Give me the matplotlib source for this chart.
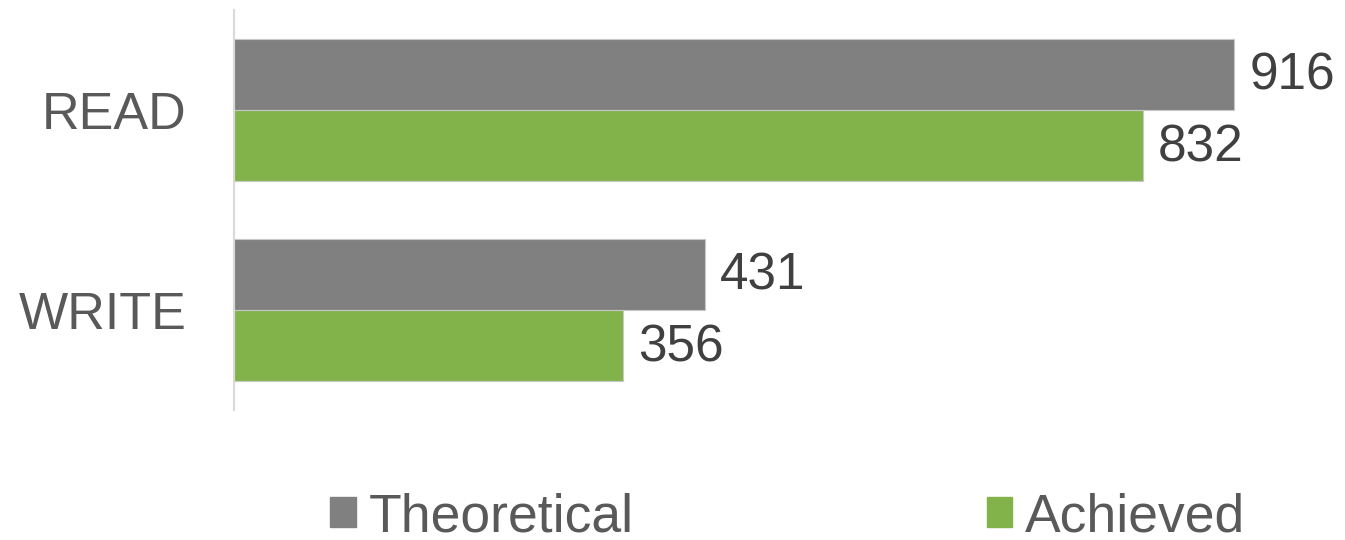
import numpy as np
import matplotlib.pyplot as plt
from matplotlib.patches import Patch

plt.rcParams['font.family'] = ['Liberation Sans', 'DejaVu Sans']

categories = ["READ", "WRITE"]
theoretical = [916, 431]
achieved = [832, 356]
series_names = ["Theoretical", "Achieved"]

gray = "#808080"
green = "#82B34A"
txt = "#595959"
val_txt = "#404040"

fig = plt.figure(figsize=(13.45, 5.40), dpi=100)
ax = fig.add_axes([234 / 1345, 1 - 410 / 540, 1092 / 1345, 400 / 540])

y = np.arange(len(categories))
h = 0.355
ax.barh(y - h / 2, theoretical, height=h, color=gray, edgecolor="#c8c8c8", linewidth=0.8)
ax.barh(y + h / 2, achieved, height=h, color=green, edgecolor="#c8c8c8", linewidth=0.8)

# value labels
for i in range(len(categories)):
    ax.text(theoretical[i] + 14, y[i] - h / 2 + 0.01, str(theoretical[i]), va="center", ha="left",
            fontsize=37, color=val_txt)
    ax.text(achieved[i] + 14, y[i] + h / 2 + 0.01, str(achieved[i]), va="center", ha="left",
            fontsize=37, color=val_txt)

ax.set_xlim(0, 1000)
ax.set_ylim(1.5, -0.5)
ax.set_yticks(y)
ax.set_yticklabels(categories, fontsize=37.5, color=txt)
ax.tick_params(axis="y", length=0, pad=34)
ax.set_xticks([])
for s in ["top", "right", "bottom"]:
    ax.spines[s].set_visible(False)
ax.spines["left"].set_color("#d9d9d9")
ax.spines["left"].set_linewidth(1.5)

handles = [Patch(color=gray), Patch(color=green)]
fig.legend(handles, series_names, loc="center left", bbox_to_anchor=(330 / 1345, 0.042),
           ncol=2, frameon=False, fontsize=38.5, labelcolor=txt, borderpad=0, borderaxespad=0,
           handlelength=0.48, handleheight=0.48, handletextpad=0.24, columnspacing=6.6)

fig.savefig("out.png", dpi=100)
